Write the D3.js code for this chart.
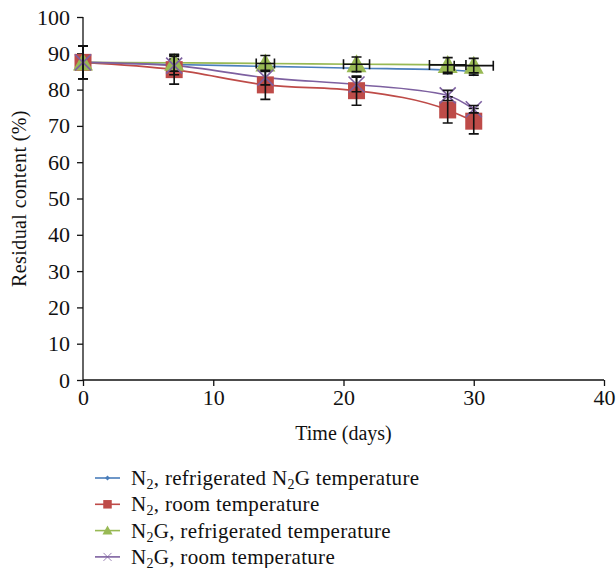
<!DOCTYPE html>
<html>
<head>
<meta charset="utf-8">
<script src="https://cdn.jsdelivr.net/npm/d3@7"></script>
<style>
  body { margin: 0; background: #fff; }
  text { font-family: "Liberation Serif", "DejaVu Serif", serif; fill: #111; }
</style>
</head>
<body>
<div id="vis"></div>
<script>
// data
var days = [0, 7, 14, 21, 28, 30];

var n2Fridge = [87.5, 86.9, 86.4, 85.9, 85.4, 85.0];
var n2Room = [87.5, 85.5, 81.3, 79.7, 74.4, 71.3];
var n2gFridge = [87.5, 87.4, 87.2, 87.0, 86.8, 86.6];
var n2gRoom = [87.5, 86.6, 83.3, 81.4, 78.4, 74.6];

var n2FridgeErr = [4.5, 1.5, 1, 1, 1, 1];
var n2RoomErr = [4.5, 4, 4, 4, 3.6, 3.5];
var n2gFridgeErr = [4.5, 2.3, 2.2, 2, 2, 2];
var n2gRoomErr = [4.5, 2.5, 2, 2, 1.4, 1];

// horizontal error (days) on the green series
var n2gFridgeXErr = [0, 0, 0.7, 1, 1.4, 1.5];

var xTicks = [0, 10, 20, 30, 40];
var yTicks = [0, 10, 20, 30, 40, 50, 60, 70, 80, 90, 100];

var series = [
  { name: ['N', '2', ', refrigerated N', '2', 'G temperature'], values: n2Fridge, err: n2FridgeErr, color: '#4a7ebb', marker: 'diamond' },
  { name: ['N', '2', ', room temperature'], values: n2Room, err: n2RoomErr, color: '#be4b48', marker: 'square' },
  { name: ['N', '2', 'G, refrigerated temperature'], values: n2gFridge, err: n2gFridgeErr, xerr: n2gFridgeXErr, color: '#98b954', marker: 'triangle' },
  { name: ['N', '2', 'G, room temperature'], values: n2gRoom, err: n2gRoomErr, color: '#7d60a0', marker: 'cross' }
];

var width = 616;
var height = 568;

var svg = d3.select('#vis').append('svg')
  .attr('width', width)
  .attr('height', height);

var x = d3.scaleLinear().domain([0, 40]).range([83, 604]);
var y = d3.scaleLinear().domain([0, 100]).range([380, 17]);

// axes
var xAxis = svg.append('g')
  .attr('transform', 'translate(0,' + y(0) + ')')
  .call(d3.axisBottom(x).tickValues(xTicks).tickSize(6).tickPadding(3));
var yAxis = svg.append('g')
  .attr('transform', 'translate(' + x(0) + ',0)')
  .call(d3.axisLeft(y).tickValues(yTicks).tickSize(6).tickPadding(7));

[xAxis, yAxis].forEach(function (g) {
  g.attr('font-size', 22).attr('font-family', '"Liberation Serif", serif');
  g.select('.domain').attr('stroke', '#111').attr('stroke-width', 1.3);
  g.selectAll('.tick line').attr('stroke', '#111').attr('stroke-width', 1.3);
  g.selectAll('.tick text')
    .style('font-size', '22px')
    .attr('fill', '#111');
});
yAxis.select('.domain').attr('d', 'M0,' + y(100) + 'V' + y(0));
xAxis.select('.domain').attr('d', 'M' + x(0) + ',0H' + x(40));

svg.append('text')
  .attr('transform', 'translate(26,' + ((y(0) + y(100)) / 2) + ') rotate(-90)')
  .attr('text-anchor', 'middle')
  .style('font-size', '20px')
  .style('letter-spacing', '0.4px')
  .text('Residual content (%)');

svg.append('text')
  .attr('x', (x(0) + x(40)) / 2)
  .attr('y', 440)
  .attr('text-anchor', 'middle')
  .style('font-size', '20px')
  .text('Time (days)');

function drawMarker(g, type, color, cx, cy) {
  if (type === 'diamond') {
    g.append('path')
      .attr('d', 'M' + cx + ',' + (cy - 5) + 'L' + (cx + 5) + ',' + cy + 'L' + cx + ',' + (cy + 5) + 'L' + (cx - 5) + ',' + cy + 'Z')
      .attr('fill', color);
  } else if (type === 'square') {
    g.append('rect')
      .attr('x', cx - 8.5).attr('y', cy - 8.5)
      .attr('width', 17).attr('height', 17)
      .attr('fill', color);
  } else if (type === 'triangle') {
    g.append('path')
      .attr('d', 'M' + cx + ',' + (cy - 10) + 'L' + (cx + 10) + ',' + (cy + 8) + 'L' + (cx - 10) + ',' + (cy + 8) + 'Z')
      .attr('fill', color);
  } else {
    g.append('path')
      .attr('d', 'M' + (cx - 8) + ',' + (cy - 8) + 'L' + (cx + 8) + ',' + (cy + 8) + 'M' + (cx + 8) + ',' + (cy - 8) + 'L' + (cx - 8) + ',' + (cy + 8))
      .attr('stroke', color)
      .attr('stroke-width', 1.6)
      .attr('fill', 'none');
  }
}

var line = d3.line()
  .curve(d3.curveMonotoneX)
  .x(function (d) { return x(d[0]); })
  .y(function (d) { return y(d[1]); });

var plot = svg.append('g');

series.forEach(function (s) {
  var pts = days.map(function (d, i) { return [d, s.values[i]]; });
  plot.append('path')
    .attr('d', line(pts))
    .attr('fill', 'none')
    .attr('stroke', s.color)
    .attr('stroke-width', 1.6);
});

series.forEach(function (s) {
  var g = plot.append('g');
  days.forEach(function (d, i) {
    drawMarker(g, s.marker, s.color, x(d), y(s.values[i]));
  });
  // error bars
  var eb = plot.append('g').attr('stroke', '#111').attr('stroke-width', 1.6).attr('fill', 'none');
  days.forEach(function (d, i) {
    var cx = x(d);
    var top = y(s.values[i] + s.err[i]);
    var bot = y(s.values[i] - s.err[i]);
    eb.append('path')
      .attr('d', 'M' + cx + ',' + top + 'V' + bot +
        'M' + (cx - 5) + ',' + top + 'H' + (cx + 5) +
        'M' + (cx - 5) + ',' + bot + 'H' + (cx + 5));
    if (s.xerr && s.xerr[i] > 0) {
      var cy = y(s.values[i]);
      var l = x(d - s.xerr[i]);
      var r = x(d + s.xerr[i]);
      eb.append('path')
        .attr('d', 'M' + l + ',' + cy + 'H' + r +
          'M' + l + ',' + (cy - 5) + 'V' + (cy + 5) +
          'M' + r + ',' + (cy - 5) + 'V' + (cy + 5));
    }
  });
});

// legend
var legend = svg.append('g').attr('transform', 'translate(95,478)');
series.forEach(function (s, i) {
  var row = legend.append('g').attr('transform', 'translate(0,' + (i * 26.3) + ')');
  row.append('line')
    .attr('x1', 0).attr('x2', 25)
    .attr('y1', 0).attr('y2', 0)
    .attr('stroke', s.color)
    .attr('stroke-width', 1.6);
  var small = row.append('g').attr('transform', 'translate(12.5,0) scale(0.5) translate(-12.5,0)');
  drawMarker(small, s.marker, s.color, 12.5, 0);
  var t = row.append('text')
    .attr('x', 36)
    .attr('y', 7)
    .style('font-size', '21px')
    .style('letter-spacing', '0.3px');
  s.name.forEach(function (part, j) {
    var sp = t.append('tspan').text(part);
    if (j % 2 === 1) {
      sp.attr('dy', 4).style('font-size', '14px');
    } else if (j > 0) {
      sp.attr('dy', -4);
    }
  });
});
</script>
</body>
</html>
